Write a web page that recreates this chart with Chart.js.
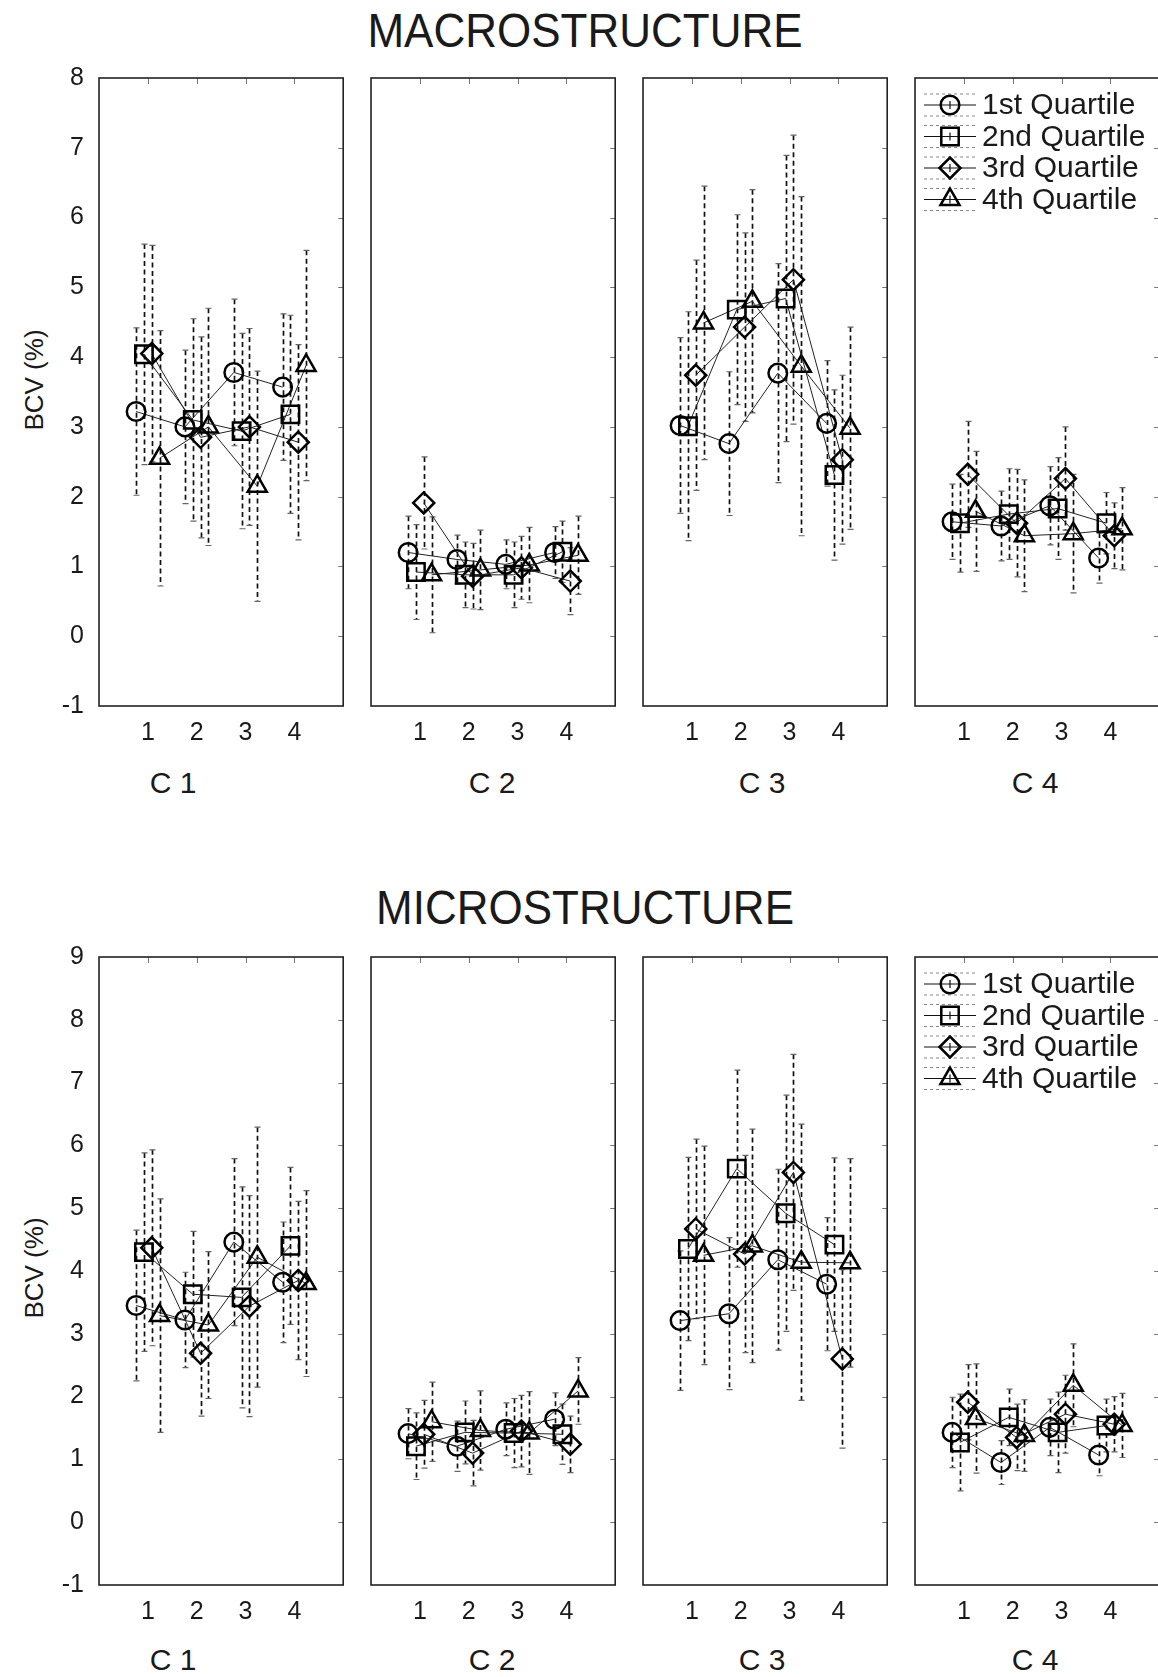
<!DOCTYPE html>
<html lang="en">
<head>
  <meta charset="UTF-8" />
  <title>BCV by quartile - macro and microstructure</title>
  <script src="https://cdn.jsdelivr.net/npm/chart.js@4.4.1/dist/chart.umd.min.js"></script>
  <style>
    body {
      margin: 0;
      background: #fff;
      font-family: "Liberation Sans", Arial, sans-serif;
      color: #1a1a1a;
      overflow: hidden;
    }
    #page {
      position: relative;
      width: 1158px;
      height: 1677px;
      overflow: hidden;
    }
    .title {
      position: absolute;
      left: 0;
      width: 1170px;
      text-align: center;
      font-size: 44px;
      line-height: 1;
      transform: scaleY(1.1);
    }
    .group {
      position: absolute;
      font-size: 30px;
      line-height: 1;
      white-space: nowrap;
      transform: translate(-50%, -50%);
    }
    .ylab {
      position: absolute;
      font-size: 26px;
      line-height: 1;
      white-space: nowrap;
      transform: translate(-50%, -50%) rotate(-90deg);
    }
    canvas {
      position: absolute;
    }
  </style>
</head>
<body>
  <div id="page">
    <div class="title" style="top:8px">MACROSTRUCTURE</div>
    <div class="title" style="top:886px">MICROSTRUCTURE</div>
    <div class="ylab" style="left:34px; top:380px">BCV (%)</div>
    <div class="ylab" style="left:34px; top:1268px">BCV (%)</div>
  </div>

  <script>
    // ---- data (mean and +/- error per quartile, per group 1..4) ----
    const groups = [1, 2, 3, 4];
    const groupLabels = ["C 1", "C 2", "C 3", "C 4"];
    const quartileNames = ["1st Quartile", "2nd Quartile", "3rd Quartile", "4th Quartile"];
    const macroYTicks = [-1, 0, 1, 2, 3, 4, 5, 6, 7, 8];
    const microYTicks = [-1, 0, 1, 2, 3, 4, 5, 6, 7, 8, 9];

    // MACROSTRUCTURE
    const macroC1Mean = [[3.22, 3.0, 3.78, 3.57], [4.04, 3.1, 2.94, 3.18], [4.05, 2.85, 3.0, 2.78], [2.55, 3.0, 2.15, 3.88]];
    const macroC1Err  = [[1.2, 1.1, 1.05, 1.05], [1.58, 1.45, 1.4, 1.42], [1.55, 1.44, 1.41, 1.4], [1.83, 1.7, 1.65, 1.65]];
    const macroC2Mean = [[1.2, 1.1, 1.03, 1.2], [0.92, 0.88, 0.88, 1.21], [1.91, 0.86, 0.98, 0.79], [0.88, 0.95, 1.02, 1.16]];
    const macroC2Err  = [[0.52, 0.35, 0.35, 0.37], [0.68, 0.47, 0.47, 0.44], [0.66, 0.47, 0.45, 0.48], [0.83, 0.57, 0.54, 0.56]];
    const macroC3Mean = [[3.02, 2.76, 3.77, 3.05], [3.01, 4.68, 4.84, 2.31], [3.74, 4.43, 5.11, 2.53], [4.49, 4.8, 3.87, 2.98]];
    const macroC3Err  = [[1.26, 1.03, 1.57, 0.9], [1.64, 1.36, 2.05, 1.22], [1.65, 1.35, 2.07, 1.21], [1.96, 1.6, 2.43, 1.45]];
    const macroC4Mean = [[1.64, 1.58, 1.87, 1.12], [1.62, 1.75, 1.83, 1.62], [2.32, 1.62, 2.26, 1.44], [1.79, 1.44, 1.47, 1.54]];
    const macroC4Err  = [[0.54, 0.5, 0.56, 0.36], [0.7, 0.65, 0.73, 0.44], [0.76, 0.77, 0.74, 0.47], [0.86, 0.8, 0.85, 0.59]];

    // MICROSTRUCTURE
    const microC1Mean = [[3.45, 3.22, 4.46, 3.82], [4.3, 3.63, 3.58, 4.4], [4.37, 2.69, 3.44, 3.85], [3.29, 3.14, 4.22, 3.8]];
    const microC1Err  = [[1.2, 0.76, 1.33, 0.96], [1.58, 1.0, 1.76, 1.25], [1.56, 1.0, 1.76, 1.26], [1.86, 1.17, 2.07, 1.48]];
    const microC2Mean = [[1.41, 1.21, 1.48, 1.64], [1.21, 1.43, 1.42, 1.4], [1.4, 1.1, 1.45, 1.24], [1.6, 1.46, 1.42, 2.09]];
    const microC2Err  = [[0.4, 0.4, 0.42, 0.42], [0.53, 0.5, 0.55, 0.48], [0.54, 0.52, 0.57, 0.45], [0.63, 0.63, 0.66, 0.53]];
    const microC3Mean = [[3.21, 3.32, 4.18, 3.79], [4.35, 5.63, 4.92, 4.42], [4.67, 4.27, 5.57, 2.6], [4.25, 4.4, 4.14, 4.13]];
    const microC3Err  = [[1.11, 1.21, 1.44, 1.06], [1.46, 1.57, 1.88, 1.38], [1.43, 1.57, 1.88, 1.42], [1.74, 1.86, 2.2, 1.66]];
    const microC4Mean = [[1.43, 0.95, 1.51, 1.07], [1.27, 1.67, 1.43, 1.54], [1.91, 1.35, 1.72, 1.56], [1.65, 1.38, 2.18, 1.54]];
    const microC4Err  = [[0.56, 0.35, 0.45, 0.33], [0.77, 0.45, 0.64, 0.42], [0.6, 0.53, 0.62, 0.44], [0.87, 0.57, 0.66, 0.51]];

    // ---- layout / style ----
    const FONT = "'Liberation Sans', Arial, sans-serif";
    const DODGE = [-0.24, -0.08, 0.08, 0.24];
    const MARKERS = [
      { style: "circle", radius: 9.3 },
      { style: "rect", radius: 12.3 },
      { style: "rectRot", radius: 10.5 },
      { style: "triangle", radius: 11 }
    ];
    const PANEL_LEFT = [99, 371, 643, 915];
    const PANEL_W = 245, PANEL_H = 628;
    const ROW_TOP = [78, 957];
    const GROUP_X = [173, 492, 762, 1035];
    const GROUP_Y = [783, 1660];
    const AXIS_W = 70, AXIS_H = 50, PAD_T = 26, PAD_R = 14;

    const rows = [
      { means: [macroC1Mean, macroC2Mean, macroC3Mean, macroC4Mean], errs: [macroC1Err, macroC2Err, macroC3Err, macroC4Err], yTicks: macroYTicks },
      { means: [microC1Mean, microC2Mean, microC3Mean, microC4Mean], errs: [microC1Err, microC2Err, microC3Err, microC4Err], yTicks: microYTicks }
    ];

    // dashed error bars, drawn under the markers
    const errorBars = {
      id: "errorBars",
      beforeDatasetsDraw(chart) {
        const ctx = chart.ctx, ys = chart.scales.y;
        ctx.save();
        chart.data.datasets.forEach((ds, d) => {
          const meta = chart.getDatasetMeta(d);
          meta.data.forEach((pt, i) => {
            const m = ds.data[i].y, e = ds.errors[i];
            const x = Math.round(pt.x) + 0.5;
            const yTop = ys.getPixelForValue(m + e);
            const yBot = ys.getPixelForValue(m - e);
            ctx.strokeStyle = "#111";
            ctx.lineWidth = 1.7;
            ctx.setLineDash([5, 3.5]);
            ctx.beginPath();
            ctx.moveTo(x, yTop);
            ctx.lineTo(x, yBot);
            ctx.stroke();
            ctx.setLineDash([]);
            ctx.strokeStyle = "#666";
            ctx.lineWidth = 1.2;
            ctx.beginPath();
            ctx.moveTo(x - 3, yTop); ctx.lineTo(x + 3, yTop);
            ctx.moveTo(x - 3, yBot); ctx.lineTo(x + 3, yBot);
            ctx.stroke();
          });
        });
        ctx.restore();
      }
    };

    // panel box with small inward ticks on top and right
    const frame = {
      id: "frame",
      afterDatasetsDraw(chart, args, opts) {
        const { ctx, chartArea: a, scales } = chart;
        ctx.save();
        ctx.strokeStyle = "#777";
        ctx.lineWidth = 1;
        ctx.beginPath();
        groups.forEach(g => {
          const x = Math.round(scales.x.getPixelForValue(g)) + 0.5;
          ctx.moveTo(x, a.top); ctx.lineTo(x, a.top + 6);
        });
        opts.yTicks.slice(1, -1).forEach(v => {
          const y = Math.round(scales.y.getPixelForValue(v)) + 0.5;
          ctx.moveTo(a.right - 5, y); ctx.lineTo(a.right, y);
        });
        ctx.stroke();
        ctx.strokeStyle = "#222";
        ctx.lineWidth = 1.6;
        ctx.strokeRect(a.left, a.top, a.right - a.left, a.bottom - a.top);
        ctx.restore();
      }
    };

    // legend drawn inside the last panel of each row
    const quartileLegend = {
      id: "quartileLegend",
      afterDraw(chart, args, opts) {
        if (!opts.show) return;
        const { ctx, chartArea: a } = chart;
        ctx.save();
        chart.data.datasets.forEach((ds, q) => {
          const cx = a.left + 35, cy = a.top + 27 + q * 31.5;
          ctx.strokeStyle = "#888";
          ctx.lineWidth = 1;
          ctx.setLineDash([3, 3]);
          ctx.beginPath();
          ctx.moveTo(cx - 26, cy - 11); ctx.lineTo(cx + 26, cy - 11);
          ctx.moveTo(cx - 26, cy + 11); ctx.lineTo(cx + 26, cy + 11);
          ctx.stroke();
          ctx.setLineDash([]);
          ctx.strokeStyle = "#111";
          ctx.lineWidth = 1.2;
          ctx.beginPath();
          ctx.moveTo(cx - 26, cy); ctx.lineTo(cx + 26, cy);
          ctx.moveTo(cx, cy - 4); ctx.lineTo(cx, cy + 4);
          ctx.stroke();
          ctx.strokeStyle = "#000";
          ctx.lineWidth = ds.pointBorderWidth;
          ctx.fillStyle = "rgba(0,0,0,0)";
          Chart.helpers.drawPoint(ctx, { pointStyle: ds.pointStyle, radius: ds.pointRadius, rotation: 0, borderWidth: ds.pointBorderWidth }, cx, cy);
          ctx.fillStyle = "#1a1a1a";
          ctx.font = "30px " + FONT;
          ctx.textBaseline = "middle";
          ctx.textAlign = "left";
          ctx.fillText(ds.label, a.left + 67, cy + 1);
        });
        ctx.restore();
      }
    };

    const page = document.getElementById("page");

    rows.forEach((row, r) => {
      for (let col = 0; col < 4; col++) {
        const canvas = document.createElement("canvas");
        const w = AXIS_W + PANEL_W + PAD_R;
        const h = PAD_T + PANEL_H + AXIS_H;
        canvas.width = w;
        canvas.height = h;
        canvas.style.width = w + "px";
        canvas.style.height = h + "px";
        canvas.style.left = (PANEL_LEFT[col] - AXIS_W) + "px";
        canvas.style.top = (ROW_TOP[r] - PAD_T) + "px";
        page.appendChild(canvas);

        const lbl = document.createElement("div");
        lbl.className = "group";
        lbl.textContent = groupLabels[col];
        lbl.style.left = GROUP_X[col] + "px";
        lbl.style.top = GROUP_Y[r] + "px";
        page.appendChild(lbl);

        const means = row.means[col], errs = row.errs[col], yTicks = row.yTicks;

        new Chart(canvas, {
          type: "line",
          data: {
            datasets: quartileNames.map((name, q) => ({
              label: name,
              data: groups.map((g, i) => ({ x: g + DODGE[q], y: means[q][i] })),
              errors: errs[q],
              borderColor: "#222",
              borderWidth: 1,
              tension: 0,
              fill: false,
              pointStyle: MARKERS[q].style,
              pointRadius: MARKERS[q].radius,
              pointBorderColor: "#000",
              pointBackgroundColor: "rgba(255,255,255,0)",
              pointBorderWidth: 2.5
            }))
          },
          options: {
            responsive: false,
            animation: false,
            events: [],
            layout: { padding: { top: PAD_T, right: PAD_R, left: 0, bottom: 0 } },
            scales: {
              x: {
                type: "linear",
                min: 0,
                max: 5,
                grid: { display: false },
                border: { display: false },
                afterBuildTicks: s => { s.ticks = groups.map(v => ({ value: v })); },
                afterFit: s => { s.height = AXIS_H; },
                ticks: { font: { family: FONT, size: 25 }, color: "#1a1a1a", padding: 4, maxRotation: 0, autoSkip: false }
              },
              y: {
                type: "linear",
                min: yTicks[0],
                max: yTicks[yTicks.length - 1],
                grid: { display: false },
                border: { display: false },
                afterBuildTicks: s => { s.ticks = yTicks.map(v => ({ value: v })); },
                afterFit: s => { s.width = AXIS_W; },
                ticks: { display: col === 0, font: { family: FONT, size: 25 }, color: "#1a1a1a", padding: 7 }
              }
            },
            plugins: {
              legend: { display: false },
              tooltip: { enabled: false },
              frame: { yTicks: yTicks },
              quartileLegend: { show: col === 3 }
            }
          },
          plugins: [errorBars, frame, quartileLegend]
        });
      }
    });
  </script>
</body>
</html>
